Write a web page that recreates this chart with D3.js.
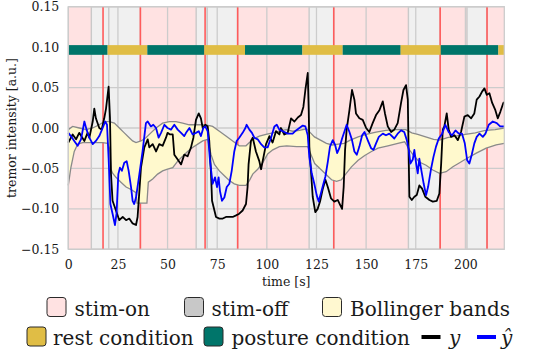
<!DOCTYPE html>
<html>
<head>
<meta charset="utf-8">
<script src="https://cdn.jsdelivr.net/npm/d3@7"></script>
<style>
  html, body { margin: 0; padding: 0; background: #ffffff; }
  svg text { font-family: "DejaVu Serif", "Liberation Serif", serif; fill: #1a1a1a; }
</style>
</head>
<body>
<svg id="chart" width="536" height="354"></svg>
<script>
// ---------------- data ----------------
const xTicks = [0, 25, 50, 75, 100, 125, 150, 175, 200];
const yTicks = [-0.15, -0.10, -0.05, 0.00, 0.05, 0.10, 0.15];
const timeMax = 219.6;

// stimulation-off spans [start, end] in seconds (rest of the time is stim-on)
const stimOff = [[11.6, 20.4], [20.4, 36.3], [64.4, 70.0], [70.0, 85.3], [121.3, 133.7], [171.3, 187.3], [200.8, 210.9]];
// red event markers (s)
const redMarks = [17.5, 36.3, 68.9, 85.3, 133.7, 187.3, 210.9];
// condition changes: boundaries and labels
const condBounds = [0, 19.8, 39.8, 68.5, 89.0, 117.9, 138.2, 167.4, 187.6, 216.6, 219.6];
const condLabels = ["posture", "rest", "posture", "rest", "posture", "rest", "posture", "rest", "posture", "rest"];
const condBar = [0.0905, 0.1025];

// measured tremor y: [time, value]
const yTrue = [
  [0,-0.018],[2.2,-0.008],[3.9,-0.014],[5.5,-0.006],[8.1,-0.016],[9.7,-0.006],[10.6,-0.012],[12.3,0.008],
  [13.1,0.024],[13.9,0.012],[15.6,0.000],[16.8,-0.002],[18.1,0.012],[19.0,0.024],[20.3,0.051],[21.0,0.012],
  [21.5,-0.057],[22.3,-0.090],[24.0,-0.102],[25.7,-0.114],[27.4,-0.110],[29.1,-0.114],[30.7,-0.112],[32.4,-0.118],
  [34.1,-0.120],[34.9,-0.110],[35.8,-0.078],[36.6,-0.049],[38.3,-0.024],[40.0,-0.014],[40.8,-0.024],[42.5,-0.020],
  [44.2,-0.029],[45.8,-0.020],[47.5,-0.022],[49.2,-0.012],[50.0,-0.006],[51.2,-0.008],[52.6,-0.008],[53.4,-0.033],
  [55.1,-0.039],[56.8,-0.045],[58.4,-0.033],[60.1,-0.035],[61.8,-0.024],[63.0,-0.012],[64.3,0.010],[65.7,0.018],
  [66.8,0.012],[67.7,0.000],[69.0,0.004],[70.2,0.002],[71.0,-0.016],[71.9,-0.057],[72.4,-0.090],[73.6,-0.102],
  [74.4,-0.110],[76.1,-0.112],[77.8,-0.112],[79.4,-0.110],[81.1,-0.110],[82.8,-0.110],[84.5,-0.108],[86.1,-0.106],
  [87.8,-0.102],[89.5,-0.094],[90.3,-0.073],[90.8,-0.045],[92.0,-0.016],[92.9,-0.012],[94.5,-0.029],[96.2,-0.041],
  [97.1,-0.051],[97.9,-0.041],[99.6,-0.020],[101.3,-0.010],[102.9,-0.018],[104.6,-0.004],[106.3,-0.008],[107.1,0.000],
  [108.8,-0.008],[110.5,-0.006],[112.2,0.012],[113.9,0.008],[115.6,0.013],[117.2,0.016],[118.4,0.026],[119.4,0.047],
  [120.6,0.068],[121.1,0.022],[121.4,-0.023],[122.3,-0.056],[123.1,-0.085],[124.4,-0.104],[125.6,-0.100],[126.8,-0.091],
  [128.2,-0.075],[129.5,-0.064],[130.7,-0.073],[132.3,-0.087],[134.0,-0.091],[135.7,-0.089],[136.9,-0.095],[137.9,-0.100],
  [138.7,-0.073],[139.4,-0.027],[140.2,-0.002],[141.6,0.022],[142.9,0.047],[144.1,0.035],[144.9,0.018],[146.6,0.012],
  [148.3,0.010],[150.0,0.000],[151.6,-0.005],[153.3,0.006],[155.0,0.016],[156.7,0.022],[158.4,0.033],[159.5,0.018],
  [160.9,0.002],[162.6,-0.005],[164.2,-0.002],[165.9,0.006],[167.6,0.031],[168.8,0.047],[170.1,0.053],[171.0,0.035],
  [171.5,-0.044],[171.8,-0.085],[173.0,-0.089],[174.3,-0.085],[175.5,-0.083],[176.8,-0.071],[178.2,-0.075],[179.8,-0.085],
  [181.9,-0.089],[183.6,-0.091],[185.6,-0.090],[186.9,-0.081],[187.8,-0.044],[188.6,-0.002],[189.4,0.002],[190.6,0.018],
  [191.6,-0.002],[192.8,-0.011],[194.5,-0.009],[196.2,-0.015],[197.8,-0.005],[199.5,0.014],[201.2,0.016],[202.9,0.012],
  [204.5,0.018],[205.7,0.035],[207.1,0.039],[208.4,0.045],[209.6,0.049],[210.8,0.041],[212.1,0.043],[213.5,0.031],
  [215.1,0.022],[216.3,0.012],[217.6,0.020],[219.1,0.031],[219.6,0.032]
];

// predicted tremor y-hat: [time, value]
const yPred = [
  [0,-0.006],[1.3,-0.010],[3.0,-0.016],[4.7,-0.022],[6.4,-0.014],[8.1,0.008],[9.2,-0.002],[10.6,-0.012],
  [12.3,-0.020],[13.9,-0.016],[15.6,-0.010],[17.3,0.000],[18.6,0.008],[19.5,0.004],[20.3,-0.037],[21.2,-0.094],
  [22.3,-0.106],[23.5,-0.120],[24.3,-0.106],[25.2,-0.057],[26.0,-0.049],[27.0,-0.053],[28.2,-0.043],[29.4,-0.041],
  [30.4,-0.053],[31.6,-0.073],[32.4,-0.090],[33.2,-0.094],[34.1,-0.086],[35.8,-0.057],[37.4,-0.029],[39.1,0.006],
  [40.0,0.008],[41.6,0.002],[42.8,0.004],[44.2,0.000],[45.5,-0.012],[46.7,-0.006],[48.4,0.004],[50.0,0.000],
  [51.7,-0.002],[53.4,0.004],[55.1,-0.002],[56.8,-0.006],[58.4,-0.010],[59.3,-0.006],[61.0,0.000],[62.6,-0.008],
  [64.3,-0.006],[65.7,-0.004],[66.8,-0.010],[68.0,0.000],[69.0,0.002],[70.2,-0.004],[71.4,-0.041],[72.7,-0.069],
  [73.9,-0.061],[74.9,-0.073],[75.7,-0.061],[76.4,-0.078],[77.4,-0.090],[78.6,-0.086],[79.8,-0.073],[81.1,-0.069],
  [82.3,-0.053],[83.6,-0.029],[84.8,-0.016],[86.1,-0.012],[87.8,-0.006],[89.2,0.000],[89.8,0.004],[91.2,-0.002],
  [92.5,-0.006],[93.7,-0.012],[95.4,-0.014],[97.1,-0.020],[98.7,-0.024],[100.4,-0.024],[102.1,-0.012],[103.8,0.002],
  [105.0,0.004],[106.3,-0.002],[108.0,-0.004],[109.7,-0.006],[110.5,-0.007],[113.0,-0.007],[114.7,-0.003],[116.4,0.000],
  [118.1,0.003],[119.4,0.002],[120.6,-0.009],[121.4,-0.036],[122.6,-0.056],[123.9,-0.069],[125.1,-0.083],[126.1,-0.091],
  [127.3,-0.080],[128.5,-0.069],[129.5,-0.060],[130.7,-0.042],[131.8,-0.023],[133.2,-0.015],[134.4,-0.021],[135.4,-0.031],
  [136.5,-0.025],[137.9,-0.013],[139.0,-0.005],[140.2,0.004],[141.6,-0.005],[142.9,-0.015],[144.1,-0.029],[145.3,-0.033],
  [146.6,-0.023],[148.0,-0.009],[149.2,-0.005],[150.8,-0.015],[152.5,-0.025],[153.7,-0.027],[155.0,-0.019],[156.4,-0.011],
  [158.4,-0.007],[160.0,-0.009],[161.7,-0.007],[164.2,-0.013],[165.9,-0.007],[167.6,-0.003],[169.2,-0.005],[170.5,-0.015],
  [171.5,-0.027],[172.3,-0.044],[173.5,-0.039],[174.3,-0.027],[175.2,-0.044],[176.0,-0.056],[176.8,-0.038],[177.8,-0.052],
  [179.0,-0.069],[180.2,-0.083],[181.2,-0.073],[182.6,-0.052],[183.9,-0.036],[185.2,-0.023],[186.6,-0.013],[188.3,-0.007],
  [189.9,0.004],[191.6,-0.005],[193.3,-0.009],[195.0,-0.003],[196.7,-0.007],[198.3,-0.007],[199.7,-0.019],[200.9,-0.040],
  [202.0,-0.044],[203.2,-0.033],[204.5,-0.019],[205.7,-0.011],[207.1,-0.007],[208.8,-0.011],[210.1,-0.007],[211.8,0.004],
  [213.8,0.008],[215.8,0.006],[217.5,0.002],[219.1,0.002],[219.6,0.002]
];

// Bollinger bands: [time, value]
const bandUpper = [
  [0,-0.002],[2.2,0.002],[5.5,0.000],[8.9,-0.002],[12.3,0.000],[15.6,0.004],[18.1,0.008],[20.7,0.008],
  [23.2,0.006],[25.7,0.000],[28.2,-0.006],[30.7,-0.012],[32.4,-0.016],[34.1,-0.018],[36.6,-0.016],[39.1,-0.012],
  [41.6,-0.006],[44.2,0.000],[47.5,0.006],[50.9,0.008],[54.2,0.008],[57.6,0.006],[60.9,0.004],[64.3,0.004],
  [67.7,0.004],[71.1,0.003],[72.7,0.002],[76.1,-0.004],[79.4,-0.010],[82.8,-0.016],[86.1,-0.022],[89.5,-0.022],
  [92.9,-0.014],[96.2,-0.010],[99.6,-0.008],[103.0,-0.006],[106.3,-0.004],[109.7,-0.002],[113.0,-0.004],[116.4,-0.003],
  [120.0,-0.001],[122.0,-0.006],[124.0,-0.011],[127.0,-0.015],[130.0,-0.019],[133.0,-0.021],[136.0,-0.020],[139.0,-0.019],
  [142.0,-0.015],[146.0,-0.011],[150.0,-0.008],[155.0,-0.005],[160.0,-0.003],[165.0,-0.002],[170.0,-0.002],[173.0,-0.006],
  [176.0,-0.008],[180.0,-0.011],[184.0,-0.014],[187.0,-0.015],[191.0,-0.012],[195.0,-0.010],[200.0,-0.008],[205.0,-0.006],
  [210.0,-0.003],[215.0,-0.002],[219.6,0.000]
];
const bandLower = [
  [0,-0.071],[1.3,-0.049],[3.0,-0.029],[4.7,-0.020],[7.2,-0.018],[10.6,-0.018],[14.0,-0.018],[17.3,-0.018],
  [19.8,-0.019],[20.7,-0.025],[21.5,-0.051],[22.3,-0.056],[24.0,-0.061],[26.5,-0.067],[29.1,-0.073],[31.6,-0.076],
  [34.1,-0.080],[34.6,-0.093],[39.6,-0.093],[40.3,-0.067],[42.5,-0.063],[45.0,-0.057],[47.5,-0.053],[50.0,-0.051],
  [52.6,-0.049],[55.1,-0.041],[57.6,-0.035],[60.1,-0.029],[62.6,-0.024],[65.2,-0.020],[67.7,-0.016],[70.2,-0.014],
  [71.9,-0.033],[73.6,-0.045],[76.1,-0.053],[78.6,-0.059],[81.1,-0.065],[83.6,-0.069],[86.1,-0.071],[89.5,-0.071],
  [91.2,-0.065],[92.9,-0.057],[95.4,-0.051],[97.9,-0.043],[100.4,-0.032],[103.0,-0.027],[106.3,-0.023],[110.0,-0.022],
  [115.0,-0.023],[120.6,-0.023],[121.9,-0.031],[124.1,-0.044],[127.5,-0.052],[130.9,-0.060],[132.6,-0.064],[135.1,-0.066],
  [137.6,-0.064],[140.0,-0.056],[142.6,-0.048],[146.0,-0.040],[149.3,-0.034],[152.7,-0.029],[156.0,-0.025],[161.0,-0.022],
  [166.0,-0.019],[169.4,-0.017],[171.8,-0.027],[174.3,-0.035],[176.8,-0.042],[180.2,-0.046],[183.6,-0.052],[187.0,-0.056],
  [190.3,-0.054],[193.7,-0.048],[197.1,-0.043],[200.4,-0.038],[205.5,-0.031],[210.5,-0.025],[215.5,-0.021],[219.6,-0.019]
];

// legend entries
const legendRow1 = ["stim-on", "stim-off", "Bollinger bands"];
const legendRow2 = ["rest condition", "posture condition"];
const lineLabels = ["y", "ŷ"];

// ---------------- styles ----------------
const FONT = "DejaVu Serif, Liberation Serif, serif";
const C = {
  stimOn: "#ffe2e2", stimOff: "#f0f0f0", stimOffEdge: "#c9c9c9", stimOffLegend: "#c8c8c8",
  grid: "#cccccc", red: "#ff5b5b", bandFill: "#fff9cd", bandLegend: "#fff8d0", bandEdge: "#8a8a8a",
  rest: "#e0bd45", posture: "#00756a", y: "#000000", yhat: "#0000ff"
};

// ---------------- chart ----------------
const svg = d3.select("#chart");
const m = { left: 68.3, right: 504.3, top: 6.7, bottom: 249.3 };
const x = d3.scaleLinear().domain([0, timeMax]).range([m.left, m.right]);
const y = d3.scaleLinear().domain([-0.15, 0.15]).range([m.bottom, m.top]);

const plot = svg.append("g");
// stim-on background
plot.append("rect").attr("x", x(0)).attr("y", y(0.15))
  .attr("width", x(timeMax) - x(0)).attr("height", y(-0.15) - y(0.15)).attr("fill", C.stimOn);
// stim-off spans
plot.selectAll("rect.off").data(stimOff).join("rect").attr("class", "off")
  .attr("x", d => x(d[0])).attr("y", y(0.15))
  .attr("width", d => x(d[1]) - x(d[0])).attr("height", y(-0.15) - y(0.15))
  .attr("fill", C.stimOff).attr("stroke", C.stimOffEdge).attr("stroke-width", 1.4);
// grid
plot.selectAll("line.gx").data(xTicks).join("line").attr("class", "gx")
  .attr("x1", d => x(d)).attr("x2", d => x(d)).attr("y1", y(0.15)).attr("y2", y(-0.15))
  .attr("stroke", C.grid).attr("stroke-width", 1.3);
plot.selectAll("line.gy").data(yTicks).join("line").attr("class", "gy")
  .attr("x1", x(0)).attr("x2", x(timeMax)).attr("y1", d => y(d)).attr("y2", d => y(d))
  .attr("stroke", C.grid).attr("stroke-width", 1.3);
// red markers
plot.selectAll("line.red").data(redMarks).join("line").attr("class", "red")
  .attr("x1", d => x(d)).attr("x2", d => x(d)).attr("y1", y(0.15)).attr("y2", y(-0.15))
  .attr("stroke", C.red).attr("stroke-width", 1.6);

// Bollinger band fill and edges
const lineGen = d3.line().x(d => x(d[0])).y(d => y(d[1]));
const poly = bandUpper.concat(bandLower.slice().reverse());
plot.append("path").attr("d", lineGen(poly) + "Z").attr("fill", C.bandFill).attr("stroke", "none");
[bandUpper, bandLower].forEach(b => {
  plot.append("path").attr("d", lineGen(b)).attr("fill", "none")
    .attr("stroke", C.bandEdge).attr("stroke-width", 1.3);
});

// condition bar
const segs = condLabels.map((c, i) => ({ c, a: condBounds[i], b: condBounds[i + 1] }));
plot.selectAll("rect.cond").data(segs).join("rect").attr("class", "cond")
  .attr("x", d => x(d.a)).attr("width", d => x(d.b) - x(d.a))
  .attr("y", y(condBar[1])).attr("height", y(condBar[0]) - y(condBar[1]))
  .attr("fill", d => d.c === "rest" ? C.rest : C.posture);

// data lines
plot.append("path").attr("d", lineGen(yTrue)).attr("fill", "none")
  .attr("stroke", C.y).attr("stroke-width", 1.8).attr("stroke-linejoin", "round");
plot.append("path").attr("d", lineGen(yPred)).attr("fill", "none")
  .attr("stroke", C.yhat).attr("stroke-width", 1.8).attr("stroke-linejoin", "round");

// frame
svg.append("rect").attr("x", m.left).attr("y", m.top)
  .attr("width", m.right - m.left).attr("height", m.bottom - m.top)
  .attr("fill", "none").attr("stroke", C.grid).attr("stroke-width", 1.3);

// axes
const ax = svg.append("g").attr("transform", `translate(0,${m.bottom})`)
  .call(d3.axisBottom(x).tickValues(xTicks).tickSize(0).tickPadding(11).tickFormat(d3.format("d")));
const ay = svg.append("g").attr("transform", `translate(${m.left},0)`)
  .call(d3.axisLeft(y).tickValues(yTicks).tickSize(0).tickPadding(9).tickFormat(d3.format(".2f")));
[ax, ay].forEach(a => {
  a.attr("font-family", FONT);
  a.select(".domain").remove();
  a.selectAll("text").attr("font-size", 12.5).attr("fill", "#1a1a1a");
});

svg.append("text").attr("x", (m.left + m.right) / 2).attr("y", 286)
  .attr("text-anchor", "middle").attr("font-size", 12.5).text("time [s]");
svg.append("text").attr("transform", `translate(16,${(m.top + m.bottom) / 2}) rotate(-90)`)
  .attr("text-anchor", "middle").attr("font-size", 12.5).text("tremor intensity [a.u.]");

// legend
const lg = svg.append("g").attr("font-size", 20).attr("font-family", FONT);
const box = (x0, y0, fill) => lg.append("rect").attr("x", x0).attr("y", y0).attr("width", 19).attr("height", 19)
  .attr("rx", 3).attr("fill", fill).attr("stroke", "#2a2a2a").attr("stroke-width", 1);
const r1 = [{ bx: 47, tx: 74.5, fill: C.stimOn }, { bx: 184.5, tx: 211.5, fill: C.stimOffLegend }, { bx: 322.5, tx: 350, fill: C.bandLegend }];
legendRow1.forEach((t, i) => {
  box(r1[i].bx, 297.5, r1[i].fill);
  lg.append("text").attr("x", r1[i].tx).attr("y", 316).text(t);
});
const r2 = [{ bx: 27, tx: 53, fill: C.rest }, { bx: 204, tx: 231.5, fill: C.posture }];
legendRow2.forEach((t, i) => {
  box(r2[i].bx, 327, r2[i].fill);
  lg.append("text").attr("x", r2[i].tx).attr("y", 345).text(t);
});
const r3 = [{ lx: 421.5, tx: 449, col: C.y }, { lx: 477, tx: 501, col: C.yhat }];
lineLabels.forEach((t, i) => {
  lg.append("line").attr("x1", r3[i].lx).attr("x2", r3[i].lx + 19).attr("y1", 337).attr("y2", 337)
    .attr("stroke", r3[i].col).attr("stroke-width", 4);
  lg.append("text").attr("x", r3[i].tx).attr("y", 345).attr("font-style", "italic").text(t);
});
</script>
</body>
</html>
